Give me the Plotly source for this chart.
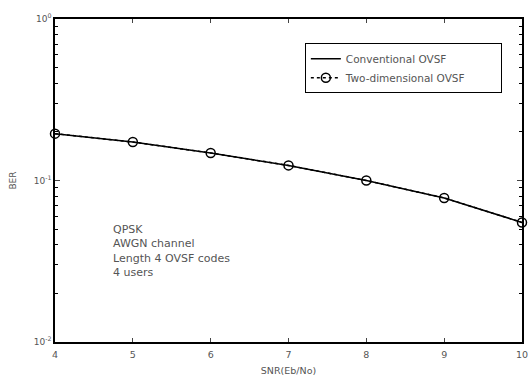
import plotly.graph_objects as go

snr = [4, 5, 6, 7, 8, 9, 10]
ber_conventional = [0.195, 0.173, 0.148, 0.124, 0.100, 0.078, 0.055]
ber_two_dim = [0.195, 0.173, 0.148, 0.124, 0.100, 0.078, 0.055]
y_tick_vals = [0.01, 0.1, 1]
y_tick_text = ["10<sup>-2</sup>", "10<sup>-1</sup>", "10<sup>0</sup>"]
x_tick_vals = [4, 5, 6, 7, 8, 9, 10]
annotation_lines = ["QPSK", "AWGN channel", "Length 4 OVSF codes", "4 users"]
series_names = ["Conventional OVSF", "Two-dimensional OVSF"]

FONT = "DejaVu Sans, Liberation Sans, Arial, sans-serif"
TXT = "#555555"
PAD = "&nbsp;" * 9

fig = go.Figure()
fig.add_trace(go.Scatter(
    x=snr, y=ber_conventional, mode="lines", name=series_names[0],
    line=dict(color="black", width=1.5), cliponaxis=False))
fig.add_trace(go.Scatter(
    x=snr, y=ber_two_dim, mode="lines+markers", name=series_names[1] + PAD,
    line=dict(color="black", width=1.5, dash="dot"), cliponaxis=False,
    marker=dict(symbol="circle-open", size=9, color="black", line=dict(width=1.5))))

minor_vals = [m * d for d in (0.01, 0.1) for m in range(2, 10)]

fig.update_layout(
    width=528, height=376,
    margin=dict(l=55, r=6, t=19, b=34),
    paper_bgcolor="white", plot_bgcolor="white",
    font=dict(family=FONT, size=9, color=TXT),
    showlegend=True,
    legend=dict(x=0.535, y=0.925, xanchor="left", yanchor="top",
                bgcolor="white", bordercolor="black", borderwidth=1,
                font=dict(size=10.5, color=TXT, family=FONT), tracegroupgap=0,
                itemwidth=30),
    annotations=[dict(
        x=0.12, y=0.375, xref="paper", yref="paper", xanchor="left", yanchor="top",
        text="<br>".join(annotation_lines), showarrow=False, align="left",
        font=dict(size=11, color=TXT, family=FONT))],
)
fig.update_xaxes(
    range=[4, 10], tickvals=x_tick_vals, ticks="inside", ticklen=4,
    showline=True, linecolor="black", linewidth=1.5, mirror="ticks",
    showgrid=False, zeroline=False, automargin=False, ticklabelstandoff=3,
    ticklabeloverflow="allow",
    title=dict(text="SNR(Eb/No)", font=dict(size=9.5, color=TXT), standoff=9),
    tickfont=dict(size=9.5, color=TXT))
fig.update_yaxes(
    type="log", range=[-2, 0], tickvals=y_tick_vals, ticktext=y_tick_text,
    ticks="inside", ticklen=5, showline=True, linecolor="black", linewidth=1.5,
    mirror="ticks", showgrid=False, zeroline=False, automargin=False,
    ticklabeloverflow="allow",
    minor=dict(tickvals=minor_vals, ticks="inside", ticklen=3, tickcolor="black", showgrid=False),
    title=dict(text="BER", font=dict(size=9, color=TXT), standoff=16),
    tickfont=dict(size=9, color=TXT))

fig.write_html("out.html", config={"displayModeBar": False},
               post_script="document.body.style.margin='0';document.body.style.overflow='hidden';")
